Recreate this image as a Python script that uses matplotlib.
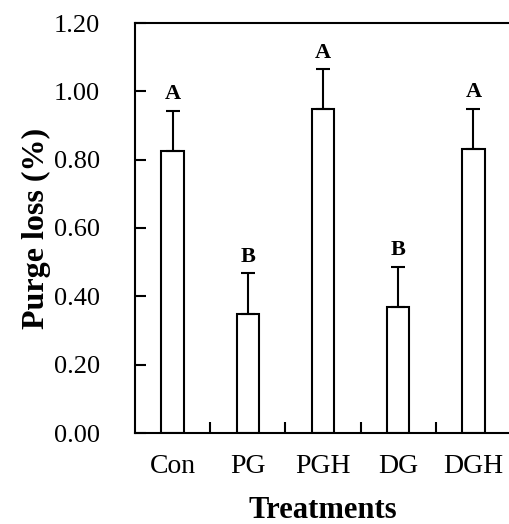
import matplotlib
matplotlib.use('Agg')
import matplotlib.pyplot as plt
import numpy as np

# Werte
treatments = ['Con', 'PG', 'PGH', 'DG', 'DGH']
purge_loss = [0.825, 0.347, 0.949, 0.370, 0.831]
sd = [0.117, 0.120, 0.115, 0.116, 0.117]
letters = ['A', 'B', 'A', 'B', 'A']

plt.rcParams['font.family'] = ['Liberation Serif', 'DejaVu Serif']

fig = plt.figure(figsize=(5.09, 5.24), dpi=100)
ax = fig.add_axes([135 / 509, 91 / 524, 376 / 509, 410 / 524])

x = np.arange(len(treatments))
ax.bar(x, purge_loss, width=0.3, color='white', edgecolor='black', linewidth=1.5)
ax.errorbar(x, purge_loss, yerr=[np.zeros(len(sd)), sd], fmt='none',
            ecolor='black', elinewidth=1.5, capsize=5, capthick=1.5)

for xi, m, s, lab in zip(x, purge_loss, sd, letters):
    ax.text(xi, m + s + 0.02, lab, ha='center', va='bottom',
            fontsize=16, fontweight='bold')

ax.set_xlim(-0.5, 4.5)
ax.set_ylim(0, 1.2)
ax.set_yticks(np.arange(0, 1.21, 0.2))
ax.set_yticklabels(['%.2f' % v for v in np.arange(0, 1.21, 0.2)])
ax.set_xticks(x)
ax.set_xticklabels(treatments)
ax.set_xticks(x[:-1] + 0.5, minor=True)

ax.tick_params(axis='y', direction='in', length=8, width=1.5, pad=25, labelsize=19)
ax.tick_params(axis='x', which='major', length=0, pad=15, labelsize=20)
ax.tick_params(axis='x', which='minor', direction='in', length=8, width=1.5)

for side in ['left', 'bottom', 'top', 'right']:
    ax.spines[side].set_linewidth(1.5)

ax.set_xlabel('Treatments', fontsize=22, fontweight='bold', labelpad=12)
ax.set_ylabel('Purge loss (%)', fontsize=23, fontweight='bold', labelpad=2)

fig.savefig('out.png', dpi=100)
